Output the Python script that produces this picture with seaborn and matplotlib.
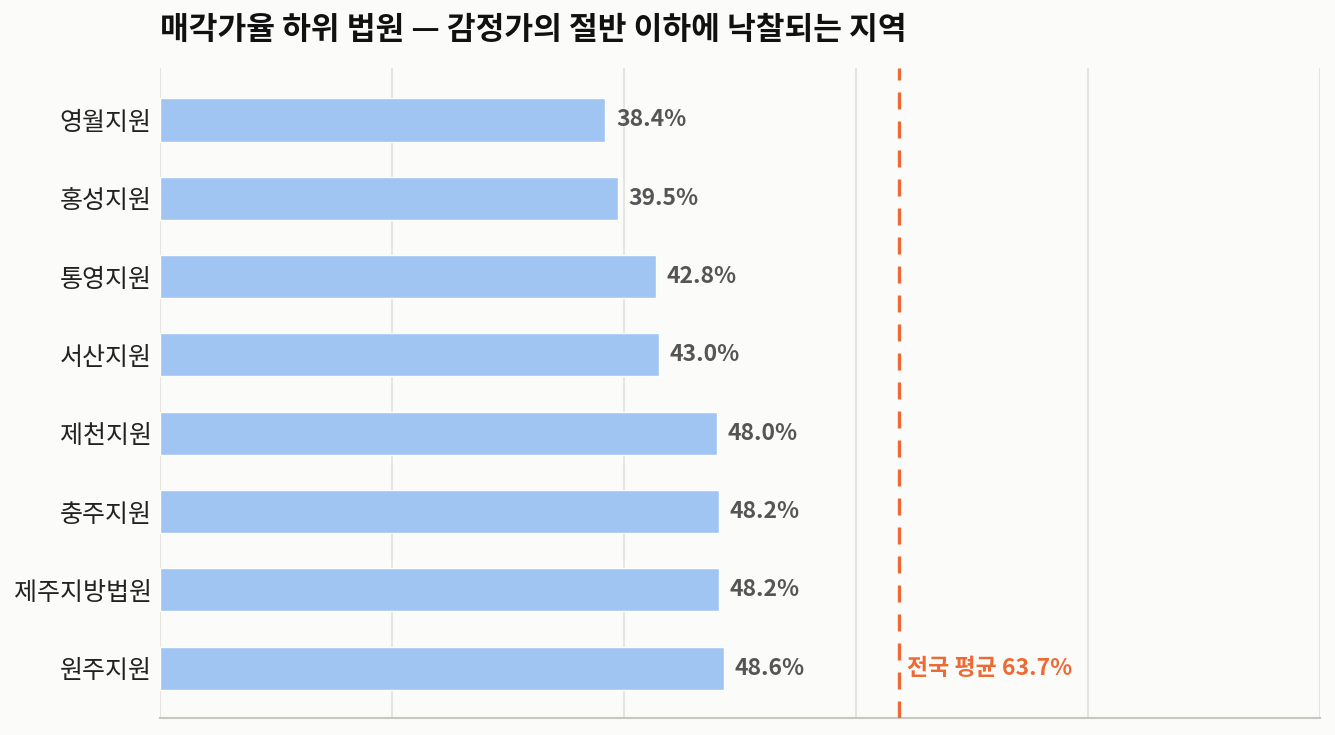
import matplotlib
matplotlib.use("Agg")
import matplotlib.pyplot as plt
import seaborn as sns
import pandas as pd

courts = ["영월지원", "홍성지원", "통영지원", "서산지원", "제천지원", "충주지원", "제주지방법원", "원주지원"]
rates = [38.4, 39.5, 42.8, 43.0, 48.0, 48.2, 48.2, 48.6]
national_avg = 63.7
title = "매각가율 하위 법원 — 감정가의 절반 이하에 낙찰되는 지역"
avg_label = "전국 평균 63.7%"

df = pd.DataFrame({"court": courts, "rate": rates})

sns.set_theme(style="white")
plt.rcParams["font.family"] = ["Noto Sans CJK KR", "DejaVu Sans"]

bg = "#fbfbf9"
fig = plt.figure(figsize=(13.35, 7.35), dpi=100, facecolor=bg)
ax = fig.add_axes([160/1335, 1-718/735, (1320-160)/1335, (718-68)/735])
ax.set_facecolor(bg)

sns.barplot(data=df, x="rate", y="court", color="#a0c5f3", saturation=1,
            width=0.55, ax=ax, zorder=3)

ax.set_xlim(0, 100)
ax.set_ylim(7.636, -0.664)
ax.set_xticks([0, 20, 40, 60, 80, 100])
ax.set_xticklabels([])
ax.tick_params(axis="x", length=0)
ax.tick_params(axis="y", length=0, pad=6, labelsize=18, labelcolor="#222222")
ax.xaxis.grid(True, color="#e2e1dc", linewidth=1.2, zorder=0)
ax.set_xlabel("")
ax.set_ylabel("")
for s in ["top", "right", "left"]:
    ax.spines[s].set_visible(False)
ax.spines["bottom"].set_color("#c9c8c0")
ax.spines["bottom"].set_linewidth(1.5)

for i, v in enumerate(rates):
    ax.text(v + 0.9, i, f"{v:.1f}%", va="center", ha="left", fontsize=16.5,
            fontweight="bold", color="#555555", zorder=4)

ax.axvline(national_avg, color="#ee6a35", linestyle=(0, (5.1, 3.6)), linewidth=2.4, zorder=4)
ax.text(national_avg + 0.7, 7, avg_label, va="center", ha="left", fontsize=16.5,
        fontweight="bold", color="#ee6a35", zorder=5)

fig.text(160/1335, 1-30/735, title, ha="left", va="center", fontsize=22.5,
         fontweight="bold", color="#111111")

fig.savefig("out.png", dpi=100, facecolor=bg)
